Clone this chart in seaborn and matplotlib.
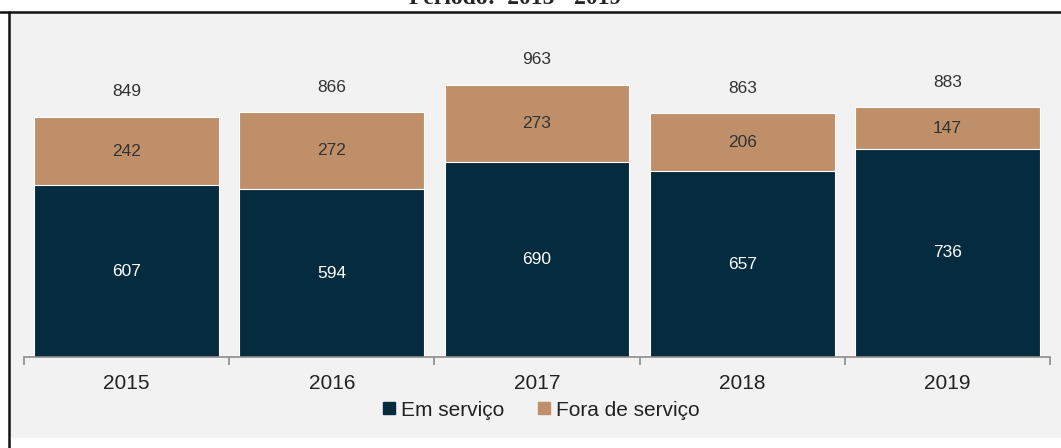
import matplotlib
matplotlib.use("Agg")
import matplotlib.pyplot as plt
from matplotlib.patches import Rectangle
from matplotlib.lines import Line2D
import pandas as pd
import seaborn as sns

# Dados
anos = ["2015", "2016", "2017", "2018", "2019"]
em_servico = [607, 594, 690, 657, 736]
fora_servico = [242, 272, 273, 206, 147]
totais = [e + f for e, f in zip(em_servico, fora_servico)]

df = pd.DataFrame({"ano": anos, "em": em_servico, "fora": fora_servico, "total": totais})

sns.set_style("white")
plt.rcParams["font.family"] = ["Liberation Sans", "DejaVu Sans"]

navy = "#052b3e"
tan = "#be8f68"
bg = "#f2f2f2"

fig = plt.figure(figsize=(10.61, 4.48), dpi=100)
fig.patch.set_facecolor("white")

# moldura cinza com bordas pretas
fig.add_artist(Rectangle((9 / 1061, 0.022), 1, 1 - 12 / 448 - 0.022,
                         transform=fig.transFigure, facecolor=bg, edgecolor="none", zorder=-5))
fig.add_artist(Line2D([0, 1], [1 - 12 / 448] * 2, transform=fig.transFigure, color="#111111", lw=1.8))
fig.add_artist(Line2D([9 / 1061] * 2, [0, 1 - 12 / 448], transform=fig.transFigure, color="#111111", lw=1.8))

fig.text(515 / 1061, 1 - 4 / 448, "Período:  2015 - 2019", ha="center", va="baseline",
         fontsize=17, fontweight="bold", family="Liberation Serif")

ax = fig.add_axes([24 / 1061, 1 - 357 / 448, 1026 / 1061, 311 / 448])
ax.set_facecolor(bg)
ax.patch.set_alpha(0)

sns.barplot(data=df, x="ano", y="total", color=tan, width=0.9, saturation=1,
            edgecolor="white", linewidth=0.8, ax=ax, zorder=1)
sns.barplot(data=df, x="ano", y="em", color=navy, width=0.9, saturation=1,
            edgecolor="white", linewidth=0.8, ax=ax, zorder=2)

for i in range(len(anos)):
    ax.text(i, em_servico[i] / 2, str(em_servico[i]), ha="center", va="center",
            color="white", fontsize=12.5, zorder=3)
    ax.text(i, em_servico[i] + fora_servico[i] / 2, str(fora_servico[i]), ha="center",
            va="center", color="#333333", fontsize=12.5, zorder=3)
    ax.annotate(str(totais[i]), (i, totais[i]), xytext=(0, 18), textcoords="offset points",
                ha="center", va="center", color="#333333", fontsize=12.5)

ax.set_xlim(-0.5, len(anos) - 0.5)
ax.set_ylim(0, 1100)
ax.set_xlabel("")
ax.set_ylabel("")
ax.set_yticks([])
for s in ["top", "right", "left"]:
    ax.spines[s].set_visible(False)
ax.spines["bottom"].set_color("#8c8c8c")
ax.spines["bottom"].set_linewidth(1.2)

ax.set_xticks([i - 0.5 for i in range(len(anos) + 1)], minor=True)
ax.tick_params(axis="x", which="minor", bottom=True, length=6, width=1.2,
               color="#8c8c8c", direction="out")
ax.tick_params(axis="x", which="major", bottom=True, length=0, pad=12, labelsize=15,
               labelcolor="#222222")

handles = [plt.Line2D([], [], marker="s", linestyle="", color=navy, markersize=8),
           plt.Line2D([], [], marker="s", linestyle="", color=tan, markersize=8)]
fig.legend(handles, ["Em serviço", "Fora de serviço"], loc="center", bbox_to_anchor=(0.51, 1 - 410 / 448),
           ncol=2, frameon=False, fontsize=15, handlelength=0.6, handletextpad=0.3,
           columnspacing=1.6, labelcolor="#222222")

fig.savefig("out.png", dpi=100, facecolor=fig.get_facecolor())
